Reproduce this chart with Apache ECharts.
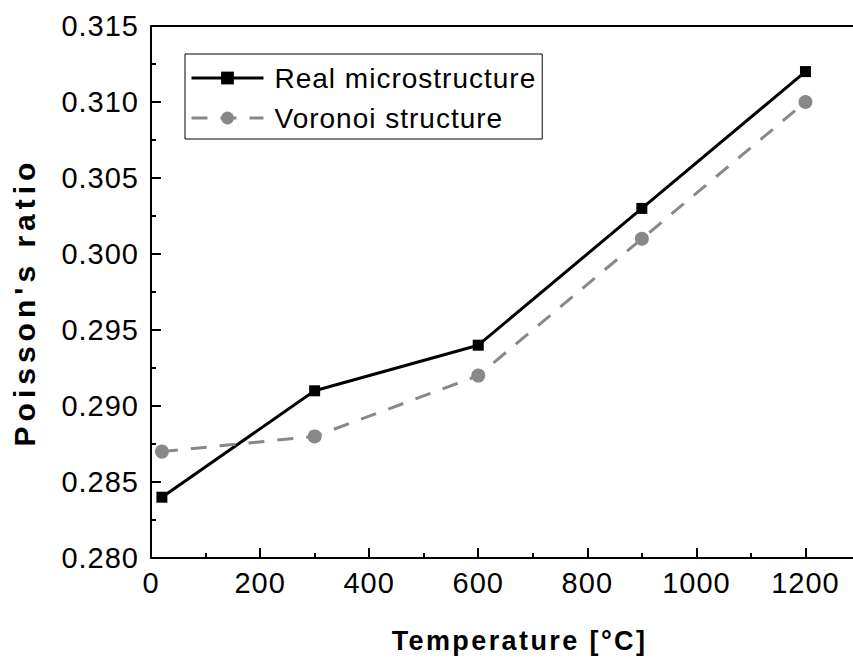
<!DOCTYPE html>
<html><head><meta charset="utf-8">
<script src="https://cdn.jsdelivr.net/npm/echarts@6/dist/echarts.min.js"></script>
<style>html,body{margin:0;padding:0;background:#fff}#c{width:853px;height:659px}</style>
</head><body><div id="c"></div>
<script>
var temperature = [20, 300, 600, 900, 1200];
var realMicro = [0.284, 0.291, 0.294, 0.303, 0.312];
var voronoi = [0.287, 0.288, 0.292, 0.301, 0.310];
var seriesNames = ['Real microstructure', 'Voronoi structure'];
var xTitle = 'Temperature [°C]';
var yTitle = "Poisson's ratio";

var font = 'Liberation Sans, Arial, sans-serif';
var chart = echarts.init(document.getElementById('c'), null, {renderer: 'svg'});
function pairs(xs, ys){ return xs.map(function(x,i){ return [x, ys[i]]; }); }
var xMax = 1300;
chart.setOption({
  animation: false,
  backgroundColor: '#fff',
  grid: {left: 151, top: 26, right: -7, bottom: 101, show: false, outerBoundsMode: 'none', containLabel: false},
  legend: {
    left: 185, top: 54, orient: 'vertical', itemWidth: 72, itemHeight: 16, itemGap: 10,
    borderColor: '#000', borderWidth: 1, padding: [9, 25, 6, 5],
    lineStyle: {width: 3},
    textStyle: {fontFamily: font, fontSize: 28, lineHeight: 30, color: '#000', padding: [0,0,0,6]},
    data: seriesNames
  },
  xAxis: [{
    type: 'value', min: 0, max: xMax, interval: 200,
    name: xTitle, nameLocation: 'middle', nameGap: 69,
    nameTextStyle: {fontFamily: font, fontSize: 27, fontWeight: 'bold', color: '#000', padding: [0, 0, 0, 28]},
    axisLine: {show: true, lineStyle: {color: '#000', width: 2}},
    axisTick: {show: true, inside: true, length: 10, lineStyle: {color: '#000', width: 2}},
    minorTick: {show: true, splitNumber: 2, length: 5, lineStyle: {color: '#000', width: 2}},
    axisLabel: {fontFamily: font, fontSize: 29, color: '#000', margin: 10,
      formatter: function(v){ return v > 1200 ? '' : String(v); }},
    splitLine: {show: false}
  }, {
    type: 'value', position: 'top', min: 0, max: xMax,
    axisLine: {show: true, onZero: false, lineStyle: {color: '#000', width: 2}},
    axisTick: {show: false}, axisLabel: {show: false}, splitLine: {show: false}
  }],
  yAxis: {
    type: 'value', min: 0.280, max: 0.315, interval: 0.005,
    name: yTitle, nameLocation: 'middle', nameGap: 112,
    nameTextStyle: {fontFamily: font, fontSize: 30, fontWeight: 'bold', color: '#000', padding: [0, 20, 0, 0]},
    axisLine: {show: true, onZero: false, lineStyle: {color: '#000', width: 2}},
    axisTick: {show: true, inside: true, length: 10, lineStyle: {color: '#000', width: 2}},
    minorTick: {show: true, splitNumber: 2, length: 5, lineStyle: {color: '#000', width: 2}},
    axisLabel: {fontFamily: font, fontSize: 29, color: '#000', margin: 12,
      formatter: function(v){ return v.toFixed(3); }},
    splitLine: {show: false}
  },
  series: [
    {name: seriesNames[0], type: 'line', data: pairs(temperature, realMicro),
     symbol: 'rect', symbolSize: 11, lineStyle: {color: '#000', width: 3},
     itemStyle: {color: '#000'}},
    {name: seriesNames[1], type: 'line', data: pairs(temperature, voronoi),
     symbol: 'circle', symbolSize: 14, lineStyle: {color: '#888', width: 3, type: [16, 13]},
     itemStyle: {color: '#888'}}
  ]
});
function spacing(){
  var texts = document.querySelectorAll('#c svg text');
  texts.forEach(function(t){
    var s = t.textContent;
    var ls = 1;
    if (s === yTitle) ls = 5;
    else if (s === xTitle) ls = 2.4;
    t.style.letterSpacing = ls + 'px';
  });
}
spacing();
chart.on('finished', spacing);
</script></body></html>
